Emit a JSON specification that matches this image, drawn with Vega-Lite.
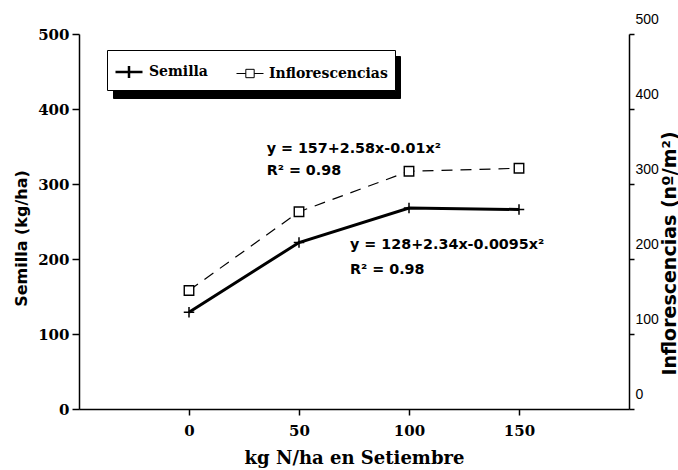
{
  "$schema": "https://vega.github.io/schema/vega-lite/v6.json",
  "width": 550,
  "height": 375,
  "autosize": {"type": "none"},
  "padding": {"left": 79, "top": 34, "right": 49, "bottom": 61},
  "background": "white",
  "config": {
    "view": {"stroke": null},
    "axis": {"grid": false, "domainColor": "black", "tickColor": "black", "labelColor": "black", "titleColor": "black", "domainWidth": 1.5, "tickWidth": 1.5}
  },
  "datasets": {
    "obs": [
      {"n": 0, "serie": "Semilla", "valor": 129},
      {"n": 50, "serie": "Semilla", "valor": 222},
      {"n": 100, "serie": "Semilla", "valor": 268},
      {"n": 150, "serie": "Semilla", "valor": 266},
      {"n": 0, "serie": "Inflorescencias", "valor": 158},
      {"n": 50, "serie": "Inflorescencias", "valor": 263},
      {"n": 100, "serie": "Inflorescencias", "valor": 317},
      {"n": 150, "serie": "Inflorescencias", "valor": 321}
    ],
    "notas": [
      {"n": 35.3, "valor": 342, "label": "y = 157+2.58x-0.01x²"},
      {"n": 35.3, "valor": 312, "label": "R² = 0.98"},
      {"n": 73.2, "valor": 214, "label": "y = 128+2.34x-0.0095x²"},
      {"n": 73.2, "valor": 180, "label": "R² = 0.98"}
    ]
  },
  "layer": [
    {
      "encoding": {
        "x": {"field": "n", "type": "quantitative", "scale": {"domain": [-50, 200], "nice": false, "zero": false},
          "axis": {"values": [0, 50, 100, 150], "tickSize": 6, "labelFont": "DejaVu Serif", "labelFontWeight": "bold", "labelFontSize": 15, "labelPadding": 8,
            "title": "kg N/ha en Setiembre", "titleFont": "DejaVu Serif", "titleFontWeight": "bold", "titleFontSize": 18, "titleY": 49, "titleBaseline": "middle"}},
        "y": {"field": "valor", "type": "quantitative", "scale": {"domain": [0, 500], "nice": false},
          "axis": {"orient": "left", "values": [0, 100, 200, 300, 400, 500], "tickSize": 7, "labelFont": "DejaVu Serif", "labelFontWeight": "bold", "labelFontSize": 15, "labelPadding": 3,
            "title": "Semilla (kg/ha)", "titleFont": "DejaVu Sans", "titleFontWeight": "bold", "titleFontSize": 16, "titleAngle": 270, "titleX": -58, "titleY": 204, "titleAlign": "center", "titleBaseline": "middle"}}
      },
      "layer": [
        {
          "data": {"name": "obs"},
          "transform": [{"filter": "datum.serie === 'Semilla'"}],
          "mark": {"type": "line", "color": "black", "strokeWidth": 3}
        },
        {
          "data": {"name": "obs"},
          "transform": [{"filter": "datum.serie === 'Semilla'"}],
          "mark": {"type": "point", "shape": "M-1,0H1M0,-1V1", "size": 110, "filled": false, "color": "black", "strokeWidth": 1.5, "opacity": 1}
        },
        {
          "data": {"name": "notas"},
          "mark": {"type": "text", "align": "left", "baseline": "alphabetic", "font": "DejaVu Sans", "fontWeight": "bold", "fontSize": 14.3, "color": "black"},
          "encoding": {"text": {"field": "label"}}
        },
        {
          "data": {"name": "obs"},
          "mark": {"type": "point", "filled": false, "color": "black", "opacity": 0},
          "encoding": {
            "color": {"field": "serie", "type": "nominal", "sort": "descending", "scale": {"range": ["black", "black"]},
              "legend": {"orient": "none", "legendX": 34, "legendY": 22, "direction": "horizontal", "title": null, "zindex": 0,
                "padding": 7, "columnPadding": 205, "symbolSize": 729, "symbolOpacity": 0, "labelExpr": "''", "labelFontSize": 14, "labelOffset": 5,
                "fillColor": "black", "strokeColor": "black"}}
          }
        },
        {
          "data": {"name": "obs"},
          "mark": {"type": "point", "filled": false, "color": "black", "opacity": 0},
          "encoding": {
            "shape": {"field": "serie", "type": "nominal", "scale": {"domain": ["Semilla", "Inflorescencias"], "range": ["M-1,0H1M0,-0.44V0.44", "M-1,0H-0.31M0.31,0H1M-0.31,-0.31H0.31V0.31H-0.31Z"]},
              "legend": {"orient": "none", "legendX": 28, "legendY": 16, "direction": "horizontal", "title": null, "zindex": 1,
                "padding": 7, "columnPadding": 26, "symbolSize": 729, "symbolOpacity": 1, "symbolStrokeColor": "black", "symbolFillColor": "white",
                "labelFont": "DejaVu Serif", "labelFontWeight": "bold", "labelFontSize": 14, "labelOffset": 5, "labelColor": "black",
                "fillColor": "white", "strokeColor": "black"}},
            "strokeWidth": {"field": "serie", "type": "nominal", "scale": {"domain": ["Semilla", "Inflorescencias"], "range": [2.5, 1]}}
          }
        }
      ]
    },
    {
      "data": {"name": "obs"},
      "transform": [{"filter": "datum.serie === 'Inflorescencias'"}],
      "encoding": {
        "x": {"field": "n", "type": "quantitative", "scale": {"domain": [-50, 200], "nice": false, "zero": false}},
        "y": {"field": "valor", "type": "quantitative", "scale": {"domain": [0, 500], "nice": false},
          "axis": {"orient": "right", "values": [0, 100, 200, 300, 400, 500], "tickSize": 5, "labelFont": "Liberation Sans", "labelFontSize": 14, "labelPadding": 1, "labelBaseline": "bottom", "labelOffset": -8,
            "title": "Inflorescencias (nº/m²)", "titleFont": "DejaVu Sans", "titleFontWeight": "bold", "titleFontSize": 19, "titleAngle": 270, "titleX": 40, "titleY": 219, "titleAlign": "center", "titleBaseline": "middle"}}
      },
      "layer": [
        {"mark": {"type": "line", "color": "black", "strokeWidth": 1.2, "strokeDash": [11, 8]}},
        {"mark": {"type": "point", "shape": "square", "size": 90, "fill": "white", "stroke": "black", "strokeWidth": 1.4, "filled": true, "opacity": 1}}
      ]
    }
  ],
  "resolve": {"scale": {"y": "independent"}}
}
